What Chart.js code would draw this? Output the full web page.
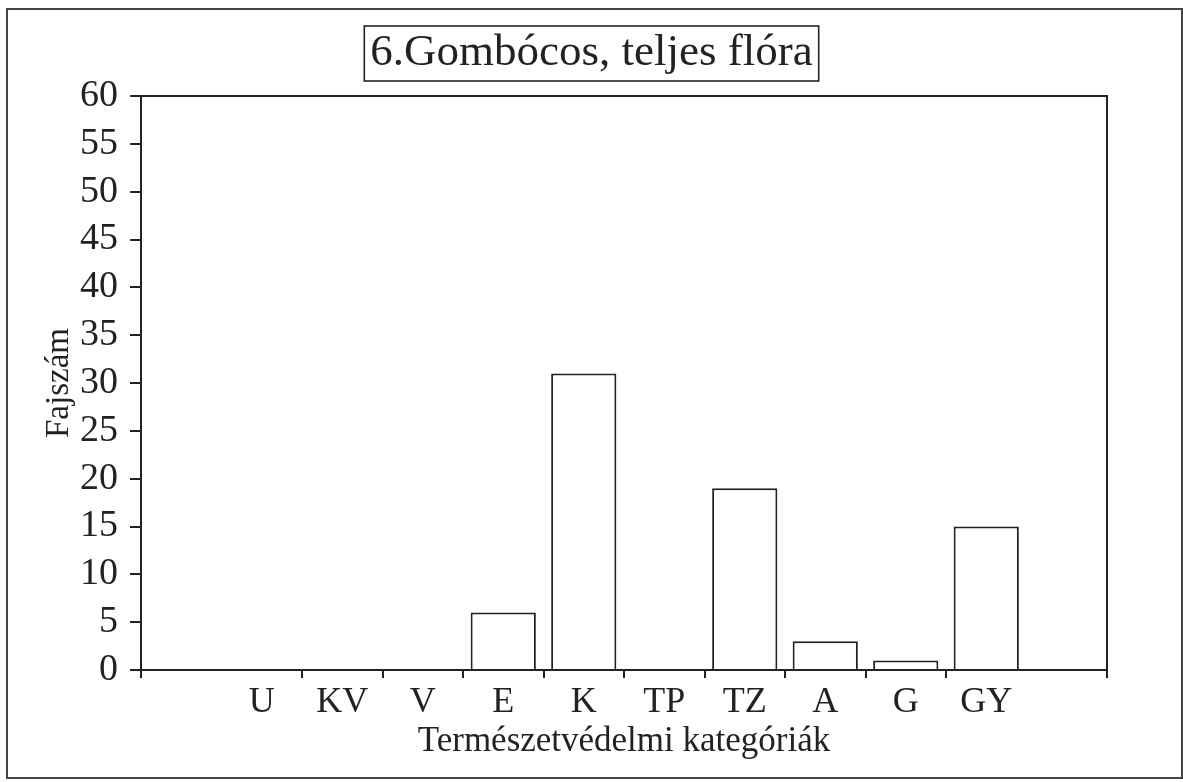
<!DOCTYPE html>
<html>
<head>
<meta charset="utf-8">
<script src="https://cdn.jsdelivr.net/npm/chart.js@4"></script>
<style>
  html, body { margin: 0; padding: 0; background: #fff; }
  #wrap { width: 1183px; height: 782px; }
</style>
</head>
<body>
<div id="wrap"><canvas id="fajChart"></canvas></div>
<script>
const titleText = '6.Gombócos, teljes flóra';
const categories = ['', 'U', 'KV', 'V', 'E', 'K', 'TP', 'TZ', 'A', 'G', 'GY', ''];
const speciesCount = [null, 0, 0, 0, 6, 31, 0, 19, 3, 1, 15, null];
const yMin = 0;
const yMax = 60;
const yStep = 5;

const ink = '#222222';
const serif = "'Liberation Serif', 'DejaVu Serif', serif";

// frame round the plot, box round the title, outer border of the page
const framePlugin = {
  id: 'frames',
  afterDraw(chart) {
    const { ctx, chartArea } = chart;
    ctx.save();
    ctx.strokeStyle = ink;
    ctx.lineWidth = 2;
    ctx.strokeRect(chartArea.left, chartArea.top, chartArea.right - chartArea.left, chartArea.bottom - chartArea.top);

    // title box
    const tb = chart.titleBlock;
    const tOpts = chart.options.plugins.title;
    ctx.font = '45px ' + serif;
    const w = ctx.measureText(titleText).width;
    const cx = (tb.left + tb.right) / 2;
    const cy = tb.top + tOpts.padding.top + 45 * 1.2 / 2;
    ctx.lineWidth = 1.6;
    ctx.strokeRect(cx - w / 2 - 6, cy - 27, w + 12, 55);

    // page border
    ctx.strokeStyle = '#444';
    ctx.lineWidth = 2;
    ctx.strokeRect(7, 9, 1175, 769);
    ctx.restore();
  }
};

const ctx = document.getElementById('fajChart').getContext('2d');
new Chart(ctx, {
  type: 'bar',
  data: {
    labels: categories,
    datasets: [{
      label: 'Fajszám',
      data: speciesCount,
      backgroundColor: '#ffffff',
      borderColor: ink,
      borderWidth: 2,
      barPercentage: 0.81,
      categoryPercentage: 1.0
    }]
  },
  options: {
    responsive: true,
    maintainAspectRatio: false,
    animation: false,
    layout: {
      padding: { left: 38, right: 38, top: 0, bottom: 0 }
    },
    plugins: {
      legend: { display: false },
      tooltip: { enabled: false },
      title: {
        display: true,
        text: titleText,
        color: ink,
        font: { family: serif, size: 45, weight: 'normal' },
        padding: { top: 26, bottom: 16 }
      }
    },
    scales: {
      x: {
        offset: true,
        grid: {
          offset: true,
          drawOnChartArea: false,
          drawTicks: true,
          tickLength: 8,
          lineWidth: 2,
          tickColor: (c) => (c.index === 1 || c.index === 11) ? 'transparent' : ink
        },
        border: { color: ink, width: 2 },
        ticks: {
          color: ink,
          padding: 3,
          autoSkip: false,
          maxRotation: 0,
          font: { family: serif, size: 36 }
        },
        title: {
          display: true,
          text: 'Természetvédelmi kategóriák',
          color: ink,
          font: { family: serif, size: 35 },
          padding: { top: 0, bottom: 19 }
        },
        afterFit(scale) { scale.height = 112; }
      },
      y: {
        min: yMin,
        max: yMax,
        grid: {
          drawOnChartArea: false,
          drawTicks: true,
          tickLength: 11,
          lineWidth: 2,
          tickColor: ink
        },
        border: { color: ink, width: 2 },
        ticks: {
          stepSize: yStep,
          autoSkip: false,
          color: ink,
          padding: 12,
          font: { family: serif, size: 38 }
        },
        title: {
          display: true,
          text: 'Fajszám',
          color: ink,
          font: { family: serif, size: 33 },
          padding: { top: 2, bottom: 0 }
        },
        afterFit(scale) { scale.width = 103; }
      },
      // empty right-hand spacer so the title stays centred on the page
      yRight: {
        position: 'right',
        display: true,
        grid: { display: false },
        border: { display: false },
        ticks: { display: false },
        afterFit(scale) { scale.width = 38; }
      }
    }
  },
  plugins: [framePlugin]
});
</script>
</body>
</html>
